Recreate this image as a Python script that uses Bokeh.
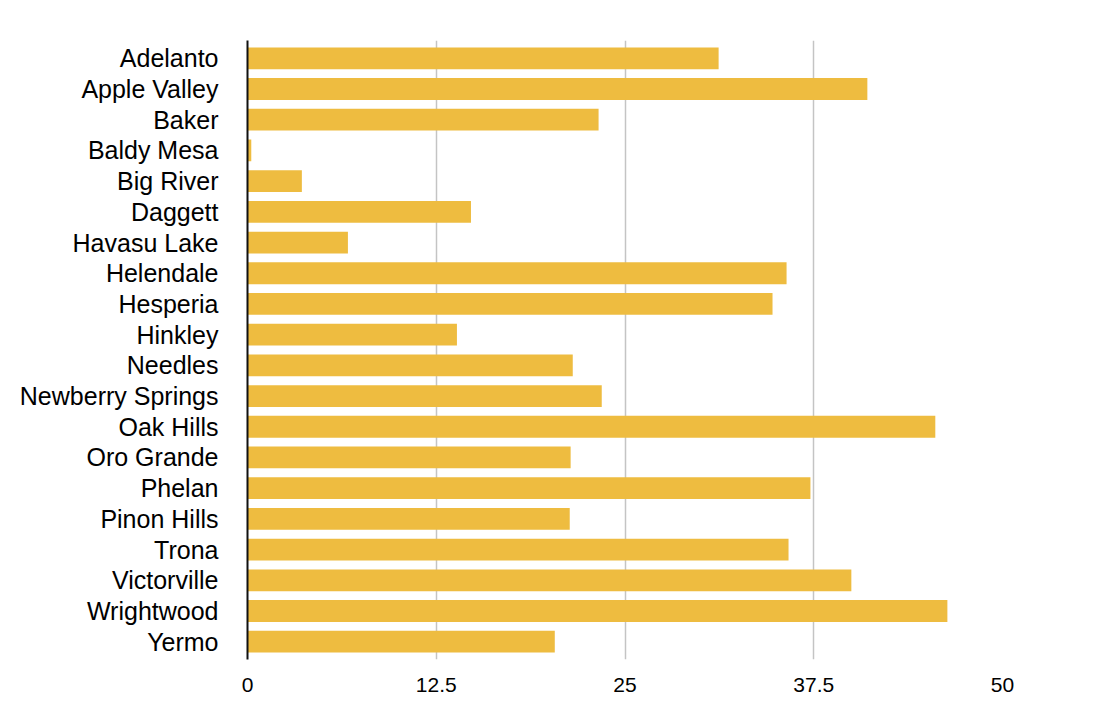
from bokeh.plotting import figure
from bokeh.models import FactorRange, FixedTicker, Range1d
from bokeh.embed import file_html
from bokeh.resources import INLINE

places = ["Adelanto", "Apple Valley", "Baker", "Baldy Mesa", "Big River", "Daggett",
          "Havasu Lake", "Helendale", "Hesperia", "Hinkley", "Needles", "Newberry Springs",
          "Oak Hills", "Oro Grande", "Phelan", "Pinon Hills", "Trona", "Victorville",
          "Wrightwood", "Yermo"]
values = [31.2, 41.05, 23.25, 0.25, 3.6, 14.8, 6.65, 35.7, 34.77, 13.87, 21.54, 23.46,
          45.55, 21.4, 37.28, 21.34, 35.83, 39.99, 46.35, 20.35]
x_ticks = [0, 12.5, 25, 37.5, 50]
x_tick_labels = ["0", "12.5", "25", "37.5", "50"]

FONT = "Liberation Sans"

p = figure(width=1090, height=716,
           y_range=FactorRange(factors=list(reversed(places)), range_padding=0.08,
                               range_padding_units="absolute"),
           x_range=Range1d(0, 50),
           output_backend="svg", toolbar_location=None,
           min_border_left=247, min_border_right=88, min_border_top=40, min_border_bottom=57)

p.hbar(y=places, right=values, left=0, height=0.71, color="#EEBC40", line_color=None)

p.outline_line_color = None
p.ygrid.grid_line_color = None
p.xgrid.grid_line_color = "#c4c4c4"
p.xgrid.grid_line_width = 1.5

p.xaxis.ticker = FixedTicker(ticks=x_ticks)
p.xaxis.major_label_overrides = {t: l for t, l in zip(x_ticks, x_tick_labels)}
p.xaxis.axis_line_color = None
p.xaxis.major_tick_line_color = None
p.xaxis.minor_tick_line_color = None
p.xaxis.major_label_text_font = FONT
p.xaxis.major_label_text_font_size = "21px"
p.xaxis.major_label_text_color = "#000000"
p.xaxis.major_label_standoff = 12

p.yaxis.axis_line_color = "#111111"
p.yaxis.axis_line_width = 2
p.yaxis.major_tick_line_color = None
p.yaxis.major_tick_out = 0
p.yaxis.major_label_text_font = FONT
p.yaxis.major_label_text_font_size = "25px"
p.yaxis.major_label_text_color = "#000000"
p.yaxis.major_label_standoff = 29

open("out.html", "w").write(file_html(p, INLINE))
